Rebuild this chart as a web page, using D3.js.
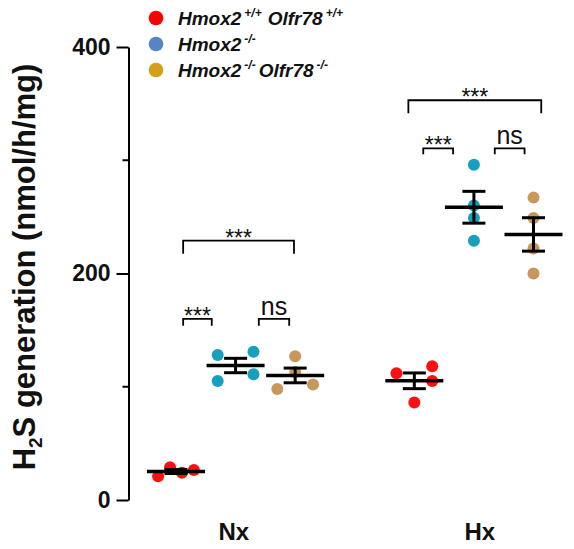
<!DOCTYPE html>
<html>
<head>
<meta charset="utf-8">
<script src="https://cdn.jsdelivr.net/npm/d3@7"></script>
<style>
  body { margin: 0; background: #fff; }
  svg text { font-family: "Liberation Sans", Arial, sans-serif; }
</style>
</head>
<body>
<svg id="chart"></svg>
<script>
// Chart data
const conditions = ['Nx', 'Hx'];
const conditionSlots = [0.97, 5.1];          // where the x labels sit (slot units)
const groups = ['wt', 'hmox', 'dko'];
const groupNames = ['Hmox2', 'Hmox2', 'Hmox2'];
const groupSupers = [['+/+', 'Olfr78', '+/+'], ['-/-'], ['-/-', 'Olfr78', '-/-']];
const legendColors = ['#ff0000', '#5585c3', '#d4a01a'];
const pointColors = ['#ff1010', '#17a0bd', '#c8975a'];

// slot of each group on the x axis: Nx = 0..2, Hx = 4..6
const slots = [[0, 1, 2], [4, 5, 6]];

// individual animals, [value, jitter in slots]
const nxWt = [[21, -0.3], [29, -0.1], [24, 0.1], [26.5, 0.3]];
const nxHmox = [[128, -0.3], [105, -0.3], [131, 0.3], [111, 0.3]];
const nxDko = [[127, 0], [98, -0.3], [102, 0.3], [113, 0]];
const hxWt = [[112, -0.3], [118, 0.3], [105, 0.3], [86, 0]];
const hxHmox = [[296, 0], [260, 0], [249, 0], [229, 0]];
const hxDko = [[267, 0], [249, 0], [222, 0], [200, 0]];
const points = [[nxWt, nxHmox, nxDko], [hxWt, hxHmox, hxDko]];

// significance brackets: [fromSlot, toSlot, value, leg (px), label]
const brackets = [
  [0.12, 0.6, 160, 7, '***'],
  [1.39, 1.9, 160, 7, 'ns'],
  [0.12, 1.98, 229, 13, '***'],
  [4.15, 4.65, 310.5, 6, '***'],
  [5.35, 5.85, 310.5, 6, 'ns'],
  [3.9, 6.13, 353, 13, '***']
];

const yTicks = [0, 200, 400];
const yMinor = [100, 300];

const width = 574, height = 549;
const svg = d3.select('#chart').attr('width', width).attr('height', height);

const y = d3.scaleLinear().domain([0, 400]).range([500, 47]);
const x = d3.scaleLinear().domain([0, 6]).range([176, 533.5]);

// Y axis
const axisX = 128.5;
const yAxis = svg.append('g')
    .attr('transform', `translate(${axisX},0)`)
    .call(d3.axisLeft(y).tickValues(yTicks).tickSize(12).tickSizeOuter(0).tickPadding(6));
yAxis.select('.domain').attr('stroke', '#000').attr('stroke-width', 2);
yAxis.selectAll('.tick line').attr('stroke', '#000').attr('stroke-width', 2);
yAxis.selectAll('.tick text')
    .attr('font-family', '"Liberation Sans", Arial, sans-serif')
    .attr('font-size', 23).attr('font-weight', 'bold').attr('fill', '#111');
yAxis.append('g').selectAll('line')
    .data(yMinor)
    .enter().append('line')
    .attr('x1', -6).attr('x2', 0)
    .attr('y1', d => y(d)).attr('y2', d => y(d))
    .attr('stroke', '#000').attr('stroke-width', 2);

// Y axis title
const title = svg.append('text')
    .attr('transform', 'translate(35,267) rotate(-90)')
    .attr('text-anchor', 'middle')
    .attr('font-size', 31).attr('font-weight', 'bold').attr('fill', '#111');
title.append('tspan').text('H');
title.append('tspan').attr('font-size', 19).attr('dy', 7).text('2');
title.append('tspan').attr('dy', -7).text('S generation (nmol/h/mg)');

// X labels
svg.append('g').selectAll('text')
    .data(conditions)
    .enter().append('text')
    .attr('x', (d, i) => x(conditionSlots[i]))
    .attr('y', 540)
    .attr('text-anchor', 'middle')
    .attr('font-size', 24).attr('font-weight', 'bold').attr('fill', '#111')
    .text(d => d);

// Points
conditions.forEach((c, ci) => {
  groups.forEach((g, gi) => {
    svg.append('g').selectAll('circle')
      .data(points[ci][gi])
      .enter().append('circle')
      .attr('cx', d => x(slots[ci][gi] + d[1]))
      .attr('cy', d => y(d[0]))
      .attr('r', 6)
      .attr('fill', pointColors[gi]);
  });
});

// Mean and SEM
conditions.forEach((c, ci) => {
  groups.forEach((g, gi) => {
    const vals = points[ci][gi].map(d => d[0]);
    const m = d3.mean(vals);
    const sem = d3.deviation(vals) / Math.sqrt(vals.length);
    const cx = x(slots[ci][gi]);
    const gg = svg.append('g').attr('stroke', '#000').attr('stroke-width', 3.5);
    gg.append('line').attr('x1', cx - 29).attr('x2', cx + 29).attr('y1', y(m)).attr('y2', y(m));
    gg.append('line').attr('x1', cx).attr('x2', cx).attr('y1', y(m + sem)).attr('y2', y(m - sem)).attr('stroke-width', 3);
    [m + sem, m - sem].forEach(v => {
      gg.append('line').attr('x1', cx - 11.5).attr('x2', cx + 11.5).attr('y1', y(v)).attr('y2', y(v)).attr('stroke-width', 3);
    });
  });
});

// Significance brackets
const br = svg.append('g');
brackets.forEach(b => {
  const x1 = x(b[0]), x2 = x(b[1]), yy = y(b[2]);
  br.append('path')
    .attr('d', `M${x1},${yy + b[3]}V${yy}H${x2}V${yy + b[3]}`)
    .attr('fill', 'none').attr('stroke', '#000').attr('stroke-width', 1.8);
  br.append('text')
    .attr('x', (x1 + x2) / 2)
    .attr('y', b[4] === 'ns' ? yy - 4 : yy + 5)
    .attr('text-anchor', 'middle')
    .attr('font-size', b[4] === 'ns' ? 25 : 23)
    .attr('fill', '#111')
    .text(b[4]);
});

// Legend
const legend = svg.append('g');
groups.forEach((g, i) => {
  const ly = 18 + i * 26;
  legend.append('circle').attr('cx', 156).attr('cy', ly).attr('r', 7.3).attr('fill', legendColors[i]);
  const t = legend.append('text')
    .attr('x', 178).attr('y', ly + 7)
    .attr('font-size', 19).attr('font-weight', 'bold').attr('font-style', 'italic').attr('fill', '#111');
  t.append('tspan').text(groupNames[i]);
  const sup = groupSupers[i];
  t.append('tspan').attr('font-size', 12).attr('dx', 3).attr('dy', -8).text(sup[0]);
  if (sup.length > 1) {
    t.append('tspan').attr('font-size', 19).attr('dx', i === 0 ? 6 : 3).attr('dy', 8).text(sup[1]);
    t.append('tspan').attr('font-size', 12).attr('dx', 3).attr('dy', -8).text(sup[2]);
  }
});
</script>
</body>
</html>
